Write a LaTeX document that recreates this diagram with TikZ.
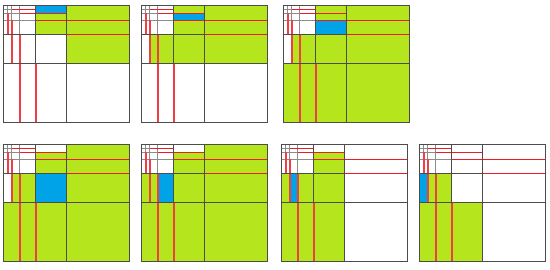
\documentclass[tikz,border=0pt]{standalone}
\definecolor{pgreen}{HTML}{B5E61D}
\definecolor{pblue}{HTML}{00A2E8}
\definecolor{pred}{HTML}{ED1C24}
\tikzset{
  gridline/.style={draw=black!45, line width=1pt},
  mainline/.style={draw=black!70, line width=1pt},
  redline/.style={draw=pred, line width=1.2pt},
  redvline/.style={draw=pred!85, line width=2pt, xshift=0.5pt},
  gfill/.style={fill=pgreen},
  bfill/.style={fill=pblue},
}
% pixel positions of the recursive splits (width 126, height 117)
\def\xW{126}\def\xa{63}\def\xb{32}\def\xc{16}\def\xd{8}\def\xe{4}
\def\yH{117}\def\ya{58}\def\yb{29}\def\yc{15}\def\yd{8}\def\ye{4}
\newcommand{\drawpanel}[4]{%
\begin{scope}[shift={(#1pt,-#2pt)}, x=1pt, y=-1pt]
  \foreach \a/\b/\c/\d in {#3} {\fill[gfill] (\a,\b) rectangle (\c,\d);}
  \fill[bfill] #4;
  % fine black grid in the top-left corner
  \draw[gridline] (\xc,0) -- (\xc,\yb) (0,\yc) -- (\xb,\yc);
  \draw[gridline] (\xd,0) -- (\xd,\yc) (0,\yd) -- (\xc,\yd);
  \draw[gridline] (\xe,0) -- (\xe,\yd) (0,\ye) -- (\xd,\ye);
  % red extensions
  \draw[redline] (\xa,\yb) -- (\xW,\yb) (\xb,\yc) -- (\xW,\yc)
                 (\xc,\yd) -- (\xa,\yd) (\xd,\ye) -- (\xb,\ye);
  \draw[redvline] (\xb,\ya) -- (\xb,\yH) (\xc,\yb) -- (\xc,\yH)
                  (\xd,\yc) -- (\xd,\ya) (\xe,\yd) -- (\xe,\yb);
  % main lines
  \draw[mainline] (\xb,0) -- (\xb,\ya) (0,\yb) -- (\xa,\yb);
  \draw[mainline] (\xa,0) -- (\xa,\yH) (0,\ya) -- (\xW,\ya);
  \draw[mainline] (0,0) rectangle (\xW,\yH);
\end{scope}}
\begin{document}
\begin{tikzpicture}
\useasboundingbox (0,0) rectangle (550pt,-270pt);
% top row
\drawpanel{3.5}{5.5}{\xa/0/\xW/\ya, \xb/\yd/\xa/\yb}{(\xb,0) rectangle (\xa,\yd)}
\drawpanel{141.5}{5.5}{\xa/0/\xW/\ya, \xb/0/\xa/\yd, \xb/\yc/\xa/\yb, \xd/\yb/\xa/\ya}{(\xb,\yd) rectangle (\xa,\yc)}
\drawpanel{283.5}{5.5}{\xa/0/\xW/\ya, \xb/0/\xa/\yc, \xd/\yb/\xa/\ya, 0/\ya/\xW/\yH}{(\xb,\yc) rectangle (\xa,\yb)}
% bottom row
\drawpanel{3.5}{144.5}{\xa/0/\xW/\ya, \xb/\yd/\xa/\yb, \xd/\yb/\xb/\ya, 0/\ya/\xW/\yH}{(\xb,\yb) rectangle (\xa,\ya)}
\drawpanel{141.5}{144.5}{\xa/0/\xW/\ya, \xb/\yd/\xa/\ya, 0/\yb/\xc/\ya, 0/\ya/\xW/\yH}{(\xc,\yb) rectangle (\xb,\ya)}
\drawpanel{281.5}{144.5}{0/\yb/\xd/\ya, \xc/\yb/\xb/\ya, \xb/\yd/\xa/\ya, 0/\ya/\xa/\yH}{(\xd,\yb) rectangle (\xc,\ya)}
\drawpanel{419.5}{144.5}{\xd/\yb/\xb/\ya, 0/\ya/\xa/\yH}{(0,\yb) rectangle (\xd,\ya)}
\end{tikzpicture}
\end{document}
